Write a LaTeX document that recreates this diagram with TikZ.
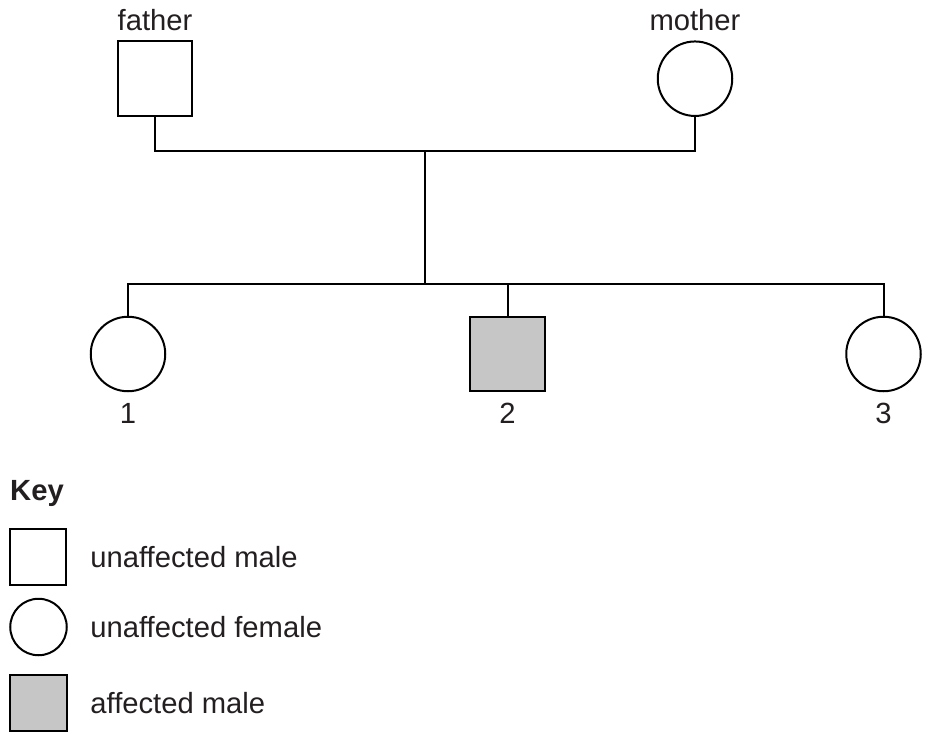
\documentclass[tikz,border=0pt]{standalone}
\usepackage{fontspec}
\setmainfont{Liberation Sans}
\usetikzlibrary{positioning}
\definecolor{inkgrey}{HTML}{231F20}
\tikzset{
  person/.style={draw=black, line width=2pt, inner sep=0pt, minimum size=74.5pt},
  male/.style={person, rectangle},
  female/.style={person, circle},
  affected male/.style={male, fill=gray!45},
  key symbol/.style={minimum size=56.5pt},
  pedigree line/.style={draw=black, line width=2pt},
  caption/.style={inner sep=0pt, text=inkgrey, font=\fontsize{29.2}{35}\selectfont},
}

\begin{document}
\begin{tikzpicture}[x=1pt,y=-1pt]
\useasboundingbox (0,0) rectangle (929,742);
% the parents
\node [male] (father) at (155,78.7) {};
\node [female] (mother) at (695,78.7) {};
\node [caption,above=9pt of father] (fatherlabel) {father};
\node [caption,above=9pt of mother] (motherlabel) {mother};
% the children
\node [female] (child1) at (128,354) {};
\node [affected male] (child2) at (507.5,354) {};
\node [female] (child3) at (883.5,354) {};
\node [caption,below=11pt of child1] (num1) {1};
\node [caption,below=11pt of child2] (num2) {2};
\node [caption,below=11pt of child3] (num3) {3};
%drawings of lines
\coordinate (couple) at (425,150.7);
\coordinate (sibs) at (425,284);
\draw [pedigree line] (father.south) |- (couple) -| (mother.south);
\draw [pedigree line] (couple) -- (sibs);
\draw [pedigree line] (child1.north) |- (sibs) -| (child3.north);
\draw [pedigree line] (child2.north) -- (child2.north |- sibs);

% the key
\node [caption,anchor=base west,font=\fontsize{29.2}{35}\selectfont\bfseries] (keytitle) at (10,500) {Key};
\node [male,key symbol] (keymale) at (38,557) {};
\node [female,key symbol] (keyfemale) at (38.5,627) {};
\node [affected male,key symbol] (keyaffected) at (38.5,703) {};
\node [caption,right=23pt of keymale] (keymaletext) {unaffected male};
\node [caption,right=22.5pt of keyfemale] (keyfemaletext) {unaffected female};
\node [caption,right=22.5pt of keyaffected] (keyaffectedtext) {affected male};

\end{tikzpicture}
\end{document}
